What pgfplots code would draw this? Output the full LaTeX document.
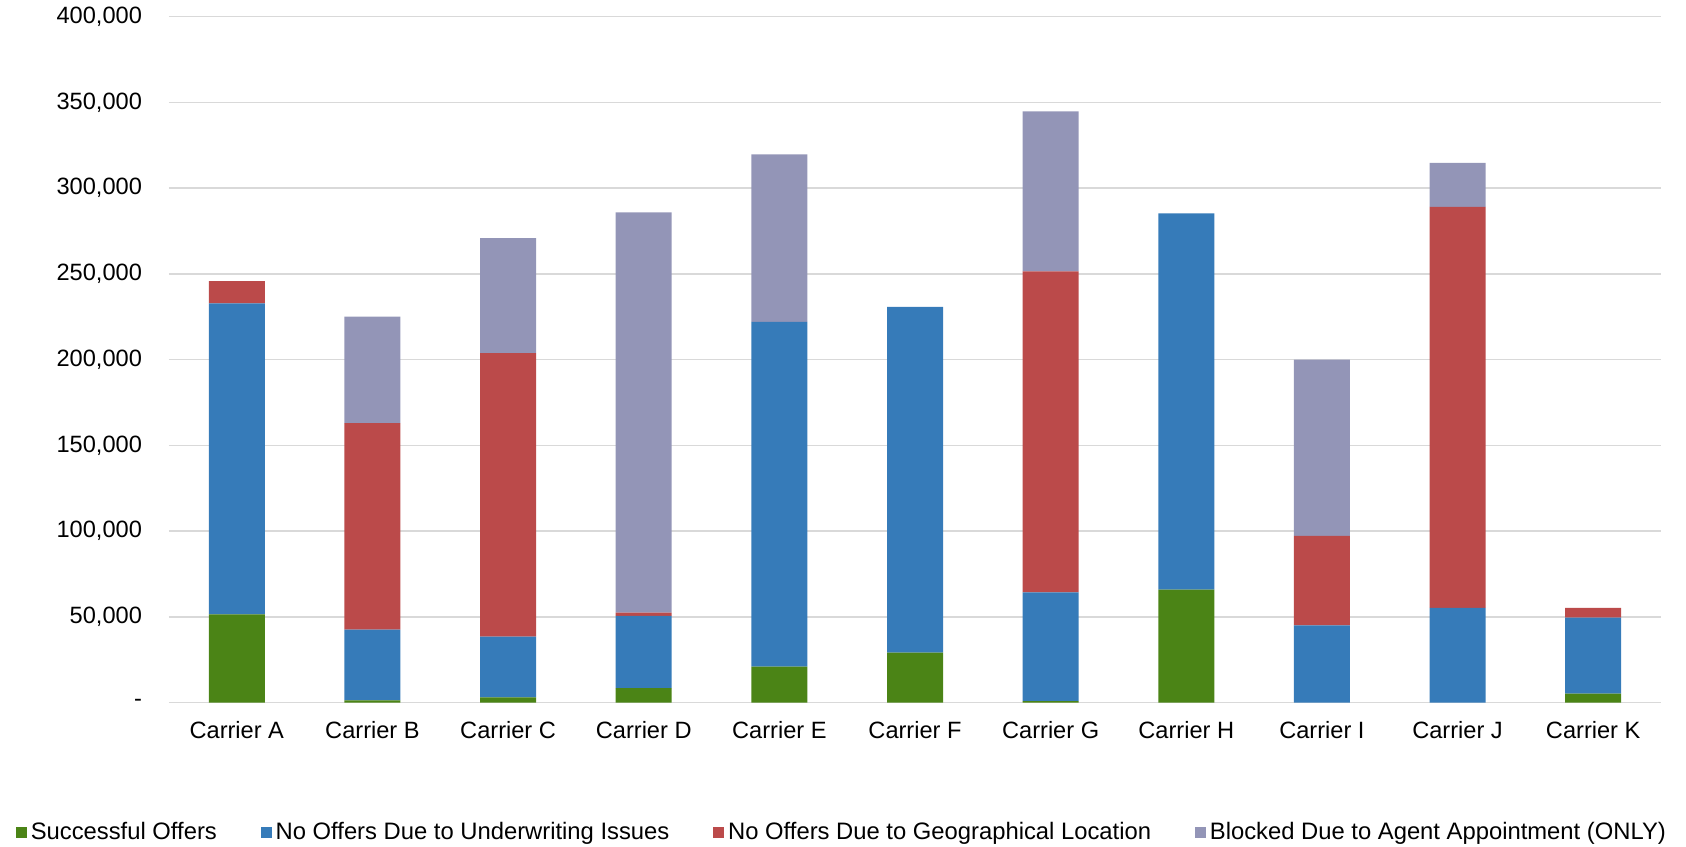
\documentclass[border=0pt]{standalone}
\usepackage{pgfplots}
\pgfplotsset{compat=1.18}
\usepackage{fontspec}
\setmainfont{Liberation Sans}
\definecolor{cgreen}{RGB}{75,132,22}
\definecolor{cblue}{RGB}{54,123,185}
\definecolor{cred}{RGB}{187,74,74}
\definecolor{cgrey}{RGB}{147,149,183}
\definecolor{cgrid}{RGB}{217,217,217}
\begin{document}
\begin{tikzpicture}
\begin{axis}[name=ax, scale only axis, width=746pt, height=343pt,
  ybar stacked, bar width=28pt,
  xmin=-0.5, xmax=10.5, ymin=0, ymax=400000,
  xtick={0,...,10},
  xticklabels={Carrier A,Carrier B,Carrier C,Carrier D,Carrier E,Carrier F,Carrier G,Carrier H,Carrier I,Carrier J,Carrier K},
  ytick={0,50000,100000,150000,200000,250000,300000,350000,400000},
  yticklabels={{-\hspace{7pt}},{50,000},{100,000},{150,000},{200,000},{250,000},{300,000},{350,000},{400,000}},
  scaled y ticks=false,
  axis line style={draw=none},
  major tick length=0pt, tick style={draw=none},
  ymajorgrids, grid style={cgrid, line width=0.75pt},
  tick label style={font=\fontsize{11.8}{14}\selectfont},
  yticklabel style={xshift=-10pt},
  xticklabel style={yshift=-5.7pt},
  legend style={at={(0.4517,-0.189)}, anchor=center, draw=none, legend columns=4,
    font=\fontsize{11.9}{14}\selectfont,
    /tikz/every even column/.append style={column sep=20pt}},
  legend image code/.code={\fill[#1,draw=none] (0pt,-2.7pt) rectangle (5.4pt,2.7pt);},
]
\addplot[fill=cgreen, draw=none] coordinates {(0,51400) (1,1300) (2,3100) (3,8500) (4,21000) (5,29200) (6,800) (7,65900) (8,0) (9,0) (10,5200)};
\addplot[fill=cblue, draw=none] coordinates {(0,181400) (1,41300) (2,35400) (3,42000) (4,201000) (5,201500) (6,63400) (7,219400) (8,45100) (9,55200) (10,44400)};
\addplot[fill=cred, draw=none] coordinates {(0,13000) (1,120400) (2,165300) (3,2000) (4,0) (5,0) (6,187200) (7,0) (8,52100) (9,233800) (10,5600)};
\addplot[fill=cgrey, draw=none] coordinates {(0,0) (1,62000) (2,67000) (3,233400) (4,97700) (5,0) (6,93400) (7,0) (8,102800) (9,25700) (10,0)};
\legend{Successful Offers, No Offers Due to Underwriting Issues, No Offers Due to Geographical Location, Blocked Due to Agent Appointment (ONLY)}
\end{axis}
\path (ax.south west) ++(-84.5pt,-71.8pt) coordinate (bl);
\path (ax.north east) ++(12.5pt,8.3pt) coordinate (tr);
\pgfresetboundingbox
\path[use as bounding box] (bl) rectangle (tr);
\end{tikzpicture}
\end{document}
